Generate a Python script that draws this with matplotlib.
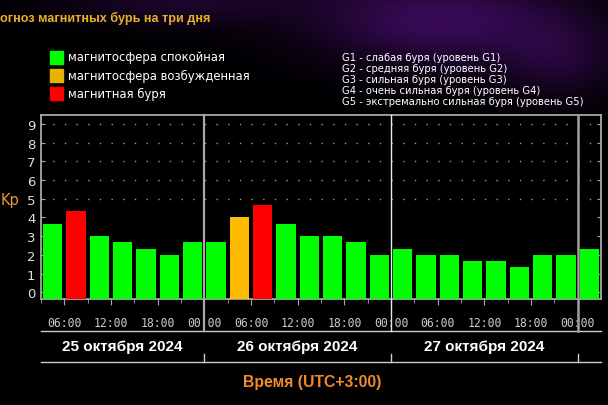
import numpy as np
import matplotlib
matplotlib.use('Agg')
import matplotlib.pyplot as plt
import matplotlib.transforms as mtransforms
from matplotlib.patches import Rectangle

# ---------------- data ----------------
# start of each 3-hour interval, hours counted from 25 Oct 2024 00:00 (UTC+3)
slot_hours = [3, 6, 9, 12, 15, 18, 21,
              24, 27, 30, 33, 36, 39, 42, 45,
              48, 51, 54, 57, 60, 63, 66, 69,
              72]
kp_values = [3.67, 4.33, 3.0, 2.67, 2.33, 2.0, 2.67,
             2.67, 4.0, 4.67, 3.67, 3.0, 3.0, 2.67, 2.0,
             2.33, 2.0, 2.0, 1.67, 1.67, 1.33, 2.0, 2.0,
             2.33]
kp_status = ['quiet', 'storm', 'quiet', 'quiet', 'quiet', 'quiet', 'quiet',
             'quiet', 'active', 'storm', 'quiet', 'quiet', 'quiet', 'quiet', 'quiet',
             'quiet', 'quiet', 'quiet', 'quiet', 'quiet', 'quiet', 'quiet', 'quiet',
             'quiet']
time_ticks = [6, 12, 18, 24, 30, 36, 42, 48, 54, 60, 66, 72]
time_labels = ['06:00', '12:00', '18:00', '00:00',
               '06:00', '12:00', '18:00', '00:00',
               '06:00', '12:00', '18:00', '00:00']
day_bounds = [24, 48, 72]
day_labels = ['25 октября 2024', '26 октября 2024', '27 октября 2024']
legend_labels = ['магнитосфера спокойная', 'магнитосфера возбужденная', 'магнитная буря']
legend_keys = ['quiet', 'active', 'storm']
g_labels = ['G1 - слабая буря (уровень G1)',
            'G2 - средняя буря (уровень G2)',
            'G3 - сильная буря (уровень G3)',
            'G4 - очень сильная буря (уровень G4)',
            'G5 - экстремально сильная буря (уровень G5)']
title_text = 'огноз магнитных бурь на три дня'

bar_colors = {'quiet': '#00ff00', 'active': '#ffbb00', 'storm': '#ff0000'}
legend_colors = {'quiet': '#00ff00', 'active': '#e6b400', 'storm': '#ff0000'}

W, H = 608, 406
fig = plt.figure(figsize=(W / 100, H / 100), dpi=100, facecolor='black')

def fx(px):
    return px / W

def fy(py):
    return 1 - py / H

# ---------------- background glow ----------------
bg = fig.add_axes([0, 0, 1, 1], zorder=-10)
yy, xx = np.mgrid[0:H, 0:W]
g1 = np.exp(-(((xx - 440) / 130.0) ** 2 + ((yy - 20) / 45.0) ** 2))
g2 = np.exp(-(((xx - 180) / 120.0) ** 2 + ((yy - 0) / 25.0) ** 2)) * 0.5
g3 = np.exp(-(((xx - 560) / 60.0) ** 2 + ((yy - 60) / 40.0) ** 2)) * 0.5
g = np.clip(g1 + g2 + g3, 0, 1)
img = np.zeros((H, W, 3))
img[..., 0] = 0.22 * g
img[..., 1] = 0.04 * g
img[..., 2] = 0.34 * g
bg.imshow(img, extent=[0, W, H, 0], aspect='auto', interpolation='bilinear')
bg.set_axis_off()

# ---------------- main axes ----------------
ax_left, ax_right, ax_top, ax_bot = 41, 601, 116, 300
ax = fig.add_axes([fx(ax_left), fy(ax_bot), (ax_right - ax_left) / W, (ax_bot - ax_top) / H])
ax.set_facecolor('black')
ymin, ymax = -0.36, 9.48
ax.set_xlim(3, 75)
ax.set_ylim(ymin, ymax)

# dotted grid rows
for lvl in [5, 6, 7, 8, 9]:
    ax.axhline(lvl, color='#9a9a9a', lw=1.0, linestyle=(0, (1, 7.4)), zorder=1)

centers = [h + 1.5 for h in slot_hours]
heights = [v - ymin for v in kp_values]
ax.bar(centers, heights, bottom=ymin, width=2.5,
       color=[bar_colors[s] for s in kp_status], zorder=3, linewidth=0)

# spines
for sp in ax.spines.values():
    sp.set_color('#a8a8a8')
    sp.set_linewidth(1.3)

# y ticks
ax.set_yticks(range(10))
ax.tick_params(axis='y', which='both', direction='in', length=3, color='#a8a8a8',
               labelcolor='#dddddd', labelsize=9.5, pad=4, right=True, left=True)

# x ticks
ax.set_xticks(time_ticks)
ax.set_xticklabels(time_labels, fontfamily='DejaVu Sans Mono')
ax.set_xticks([h for h in slot_hours if h not in time_ticks], minor=True)
ax.tick_params(axis='x', which='major', direction='out', length=4, color='#a8a8a8',
               labelcolor='#cccccc', labelsize=8.3, pad=8)
ax.tick_params(axis='x', which='minor', direction='out', length=3, color='#a8a8a8')

# day separators
trans = mtransforms.blended_transform_factory(ax.transData, ax.transAxes)
sep_styles = [('#a8a8a8', 1.6), ('#e8e8e8', 1.0), ('#a0a0a0', 1.8)]
y_line1 = (ax_bot - 332) / (ax_bot - ax_top)
y_line2 = (ax_bot - 363) / (ax_bot - ax_top)
y_tick2 = (ax_bot - 355) / (ax_bot - ax_top)
for b, (c, lw) in zip(day_bounds, sep_styles):
    ax.plot([b, b], [1, y_line1], transform=trans, color=c, lw=lw, clip_on=False, zorder=4)
    ax.plot([b, b], [y_tick2, y_line2], transform=trans, color='#cccccc', lw=1.0, clip_on=False)

ax.plot([3, 75], [y_line1, y_line1], transform=trans, color='#cccccc', lw=1.0, clip_on=False)
ax.plot([3, 75], [y_line2, y_line2], transform=trans, color='#cccccc', lw=1.0, clip_on=False)

# day labels
day_starts = [3, 24, 48]
y_day = (ax_bot - 347) / (ax_bot - ax_top)
for s, e, lab in zip(day_starts, day_bounds, day_labels):
    ax.text((s + e) / 2, y_day, lab, transform=trans, ha='center', va='center',
            color='white', fontsize=11, fontweight='bold', family='Liberation Sans')

# axis labels
fig.text(fx(312), fy(383), 'Время (UTC+3:00)', ha='center', va='center',
         color='#f08a2a', fontsize=11.3, fontweight='bold', family='Liberation Sans')
fig.text(fx(1), fy(200), 'Kp', ha='left', va='center', color='#e8962e', fontsize=10.5)

# title
fig.text(fx(0), fy(18), title_text, ha='left', va='center', color='#e8b028',
         fontsize=9.1, fontweight='bold', family='Liberation Sans')

# left legend
rows = [58, 76, 94]
for yrow, key, lab in zip(rows, legend_keys, legend_labels):
    fig.patches.append(Rectangle((fx(50), fy(yrow + 6.5)), 13 / W, 13 / H,
                                 transform=fig.transFigure, color=legend_colors[key]))
    fig.text(fx(68), fy(yrow), lab, ha='left', va='center', color='white', fontsize=8.35)

# right legend
g_rows = [58, 69, 80, 91, 102]
for yrow, lab in zip(g_rows, g_labels):
    fig.text(fx(342), fy(yrow), lab, ha='left', va='center', color='white',
             fontsize=7.2)

fig.savefig('out.png', dpi=100, facecolor='black')
